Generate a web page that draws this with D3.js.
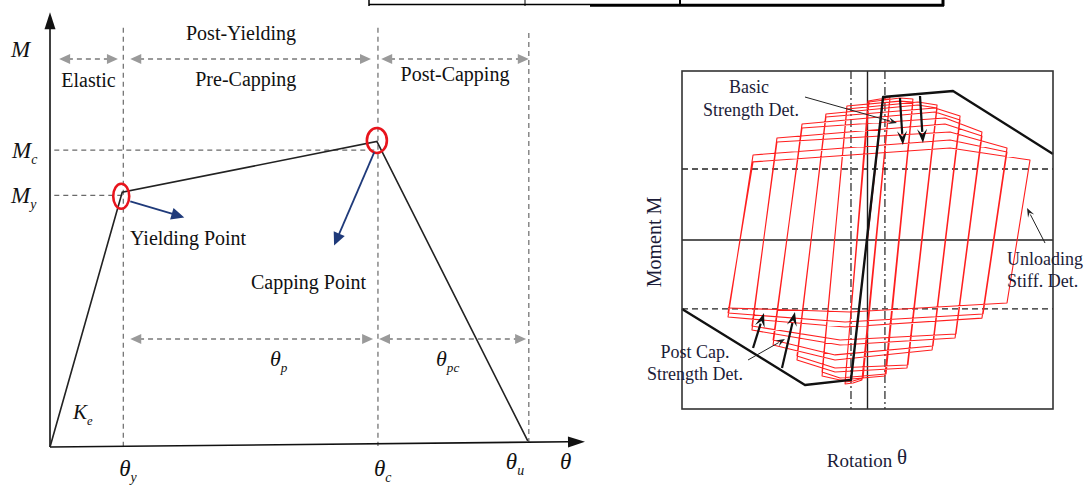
<!DOCTYPE html>
<html>
<head>
<meta charset="utf-8">
<script src="https://cdn.jsdelivr.net/npm/d3@7"></script>
<style>
  html, body { margin: 0; padding: 0; background: #fff; }
  svg text { font-family: "Liberation Serif", "DejaVu Serif", serif; }
</style>
</head>
<body>
<svg id="chart" width="1087" height="490"></svg>
<script>
// ---------- left panel: backbone curve (rotation, moment) in % of axis length
const bbTheta  = [0, 13.5, 61.1, 89.3];
const bbMoment = [0, 58.7, 70.4, 1.4];
const guideTheta = [13.7, 61.3, 89.5];      // θy, θc, θu
const guideTop   = [96.6, 96.6, 95.4];
const guideMoment = [58.0, 68.4];           // My, Mc
const topSpans = [[1.7, 12.7], [15.0, 60.0], [61.9, 89.5]];
const topNames = ["Elastic", "Pre-Capping", "Post-Capping"];
const lowSpans = [[15.0, 60.4], [61.5, 89.0]];

// ---------- right panel: cyclic response, % of frame half-size
const backbone = [[-100, -40.8], [-33.7, -85.8], [-8.9, -82.8], [8.4, 84.6], [46.1, 88.2], [100, 50.9]];
const yieldM = [42.0, -40.8];
const yieldTheta = [-8.9, 9.4];
// one entry per cycle: reload corner, top kink, positive peak, unload corner, bottom kink, negative peak
const loopTL  = [[8.4, 84.0], [0.3, 82.2], [0.8, 81.7], [-11.1, 79.3], [-11.1, 77.5], [-22.4, 74.6], [-22.4, 72.8], [-35.3, 68.6], [-35.3, 66.3], [-48.8, 60.4], [-48.8, 58.0], [-61.7, 50.3], [-61.7, 46.2]];
const loopTop = [[10.5, 84.6], [6.7, 83.4], [17.5, 84.0], [17.5, 82.2], [27.2, 81.7], [27.2, 79.9], [36.4, 78.1], [36.4, 75.7], [41.8, 72.2], [41.8, 68.6], [44.5, 63.9], [44.5, 59.2], [44.5, 54.4]];
const loopTR  = [[12.1, 84.6], [12.1, 83.4], [24.5, 83.4], [24.5, 81.7], [37.5, 79.9], [37.5, 78.1], [49.9, 73.4], [49.9, 71.0], [61.7, 63.9], [61.7, 61.5], [75.2, 54.4], [75.2, 52.1], [87.6, 47.3]];
const loopBR  = [[-3.0, -82.8], [-2.4, -81.7], [9.4, -80.5], [10.0, -79.3], [21.3, -75.7], [21.8, -74.0], [34.8, -65.1], [35.3, -62.7], [47.2, -58.0], [47.7, -55.6], [61.7, -46.2], [62.3, -43.8], [75.2, -37.3]];
const loopBot = [[-7.8, -84.6], [-7.8, -83.4], [-14.8, -82.8], [-14.8, -81.7], [-17.5, -78.1], [-17.5, -75.7], [-17.5, -71.0], [-17.5, -68.0], [-14.8, -62.1], [-14.8, -59.2], [-12.1, -51.5], [-12.1, -48.5], [-9.4, -42.6]];
const loopBL  = [[-12.1, -85.2], [-12.1, -84.0], [-24.5, -80.5], [-24.5, -78.1], [-38.0, -71.0], [-38.0, -68.6], [-50.9, -62.1], [-50.9, -59.2], [-62.3, -53.3], [-62.3, -50.9], [-75.2, -45.6], [-75.2, -43.2], [-75.2, -40.2]];

const SERIF = "Liberation Serif, DejaVu Serif, serif";
const svg = d3.select("#chart");
svg.append("rect").attr("width", 1087).attr("height", 490).attr("fill", "#fff");

function arrowHead(g, x1, y1, x2, y2, len, half, color, notch) {
  const a = Math.atan2(y2 - y1, x2 - x1), c = Math.cos(a), s = Math.sin(a);
  const pts = [[x2, y2],
    [x2 - len * c + half * s, y2 - len * s - half * c],
    [x2 - len * notch * c, y2 - len * notch * s],
    [x2 - len * c - half * s, y2 - len * s + half * c]];
  g.append("polygon").attr("points", pts.map(p => p.join(",")).join(" ")).attr("fill", color);
}

function arrow(g, x1, y1, x2, y2, o) {
  const a = Math.atan2(y2 - y1, x2 - x1);
  const back = o.len * 0.8;
  g.append("line")
    .attr("x1", o.both ? x1 + back * Math.cos(a) : x1).attr("y1", o.both ? y1 + back * Math.sin(a) : y1)
    .attr("x2", x2 - back * Math.cos(a)).attr("y2", y2 - back * Math.sin(a))
    .attr("stroke", o.color).attr("stroke-width", o.width)
    .attr("stroke-dasharray", o.dash || null);
  arrowHead(g, x1, y1, x2, y2, o.len, o.half, o.color, o.notch || 1);
  if (o.both) arrowHead(g, x2, y2, x1, y1, o.len, o.half, o.color, o.notch || 1);
}

function mathText(g, x, y, main, sub, size) {
  const t = g.append("text").attr("x", x).attr("y", y)
    .attr("font-family", SERIF)
    .attr("font-style", "italic").attr("font-size", size).attr("fill", "#111");
  t.append("tspan").text(main);
  if (sub) t.append("tspan").attr("dy", size * 0.28).attr("font-size", size * 0.6).text(sub);
  return t;
}

// ---------- table edge cut at the top of the page
const tbl = svg.append("g").attr("stroke", "#000");
tbl.append("line").attr("x1", 369).attr("x2", 944).attr("y1", 4.5).attr("y2", 4.5).attr("stroke-width", 1.5);
tbl.append("line").attr("x1", 590).attr("x2", 944).attr("y1", 5.5).attr("y2", 5.5).attr("stroke-width", 2.5);
[[369, 1.5], [525, 1], [680, 2], [943, 3]].forEach(([x, w]) =>
  tbl.append("line").attr("x1", x).attr("x2", x).attr("y1", 0).attr("y2", 6).attr("stroke-width", w));

// ================= LEFT PANEL =================
const xL = d3.scaleLinear().domain([0, 100]).range([50, 585]);
const yL = d3.scaleLinear().domain([0, 100]).range([447, 13]);
const left = svg.append("g");

// guide lines
guideTheta.forEach((t, i) => {
  left.append("line")
    .attr("x1", xL(t)).attr("x2", xL(t))
    .attr("y1", yL(guideTop[i])).attr("y2", yL(0) - 1)
    .attr("stroke", "#6a6a6a").attr("stroke-width", 1.2).attr("stroke-dasharray", "5,4");
});
guideMoment.forEach((m, i) => {
  left.append("line")
    .attr("x1", xL(0.8)).attr("x2", xL(guideTheta[i]))
    .attr("y1", yL(m)).attr("y2", yL(m))
    .attr("stroke", "#6a6a6a").attr("stroke-width", 1.2).attr("stroke-dasharray", "5,4");
});

// region arrows
const grey = { color: "#9a9a9a", width: 2, dash: "5,4", len: 11, half: 5, both: true };
topSpans.forEach(s => arrow(left, xL(s[0]), yL(89.4), xL(s[1]), yL(89.4), grey));
lowSpans.forEach(s => arrow(left, xL(s[0]), yL(24.9), xL(s[1]), yL(24.9), grey));

// axes
left.append("line").attr("x1", xL(0)).attr("y1", yL(0)).attr("x2", xL(0)).attr("y2", yL(97))
  .attr("stroke", "#111").attr("stroke-width", 1.6);
arrowHead(left, xL(0), yL(0), xL(0), yL(100.2), 17, 5.5, "#111", 1);
left.append("line").attr("x1", xL(0)).attr("y1", yL(0)).attr("x2", xL(97)).attr("y2", yL(1.2))
  .attr("stroke", "#111").attr("stroke-width", 1.6);
arrowHead(left, xL(0), yL(0), xL(100), yL(1.2), 17, 5.5, "#111", 1);

// backbone
const bbPts = bbTheta.map((t, i) => [xL(t), yL(bbMoment[i])]);
left.append("path").attr("d", d3.line()(bbPts))
  .attr("fill", "none").attr("stroke", "#222").attr("stroke-width", 1.6);

// red circles at yield and capping points
left.append("ellipse").attr("cx", bbPts[1][0] - 1).attr("cy", bbPts[1][1] + 4).attr("rx", 8).attr("ry", 12.5)
  .attr("fill", "none").attr("stroke", "#e8141c").attr("stroke-width", 2.6);
left.append("ellipse").attr("cx", bbPts[2][0]).attr("cy", bbPts[2][1] - 1).attr("rx", 10).attr("ry", 12.5)
  .attr("fill", "none").attr("stroke", "#e8141c").attr("stroke-width", 2.6);

// blue pointers
const navy = { color: "#1f3a7a", width: 1.8, len: 13, half: 6 };
arrow(left, xL(15.0), yL(56.6), xL(25.1), yL(52.9), navy);
arrow(left, xL(60.6), yL(67.9), xL(53.1), yL(46.4), navy);

// text
const lt = left.append("g").attr("fill", "#111").attr("font-size", 20).attr("font-family", SERIF);
lt.append("text").attr("x", xL(35.7)).attr("y", yL(93.8)).attr("text-anchor", "middle").text("Post-Yielding");
lt.append("text").attr("x", xL(7.2)).attr("y", yL(82.9)).attr("text-anchor", "middle").text(topNames[0]);
lt.append("text").attr("x", xL(36.6)).attr("y", yL(83.1)).attr("text-anchor", "middle").text(topNames[1]);
lt.append("text").attr("x", xL(75.7)).attr("y", yL(84.3)).attr("text-anchor", "middle").text(topNames[2]);
lt.append("text").attr("x", 130).attr("y", 245).text("Yielding Point");
lt.append("text").attr("x", 251).attr("y", 289).text("Capping Point");

mathText(left, 11, 57, "M", null, 23);
mathText(left, 12, 158, "M", "c", 23);
mathText(left, 11, 203, "M", "y", 23);
mathText(left, 73, 419, "K", "e", 21);
mathText(left, 270, 366, "θ", "p", 22);
mathText(left, 436, 366, "θ", "pc", 22);
mathText(left, xL(13.7) - 4, 476, "θ", "y", 23);
mathText(left, xL(61.3) - 4, 476, "θ", "c", 23);
mathText(left, xL(89.5) - 23, 469, "θ", "u", 23);
mathText(left, 560, 469, "θ", null, 23);

// ================= RIGHT PANEL =================
const xR = d3.scaleLinear().domain([-100, 100]).range([682, 1053]);
const yR = d3.scaleLinear().domain([-100, 100]).range([409, 71]);
const right = svg.append("g");

yieldM.forEach(m => right.append("line")
  .attr("x1", xR(-100)).attr("x2", xR(100)).attr("y1", yR(m)).attr("y2", yR(m))
  .attr("stroke", "#222").attr("stroke-width", 1.3).attr("stroke-dasharray", "6,4"));
yieldTheta.forEach(t => right.append("line")
  .attr("x1", xR(t)).attr("x2", xR(t)).attr("y1", yR(100)).attr("y2", yR(-100))
  .attr("stroke", "#222").attr("stroke-width", 1.2).attr("stroke-dasharray", "8,3,2,3"));
right.append("line").attr("x1", xR(-100)).attr("x2", xR(100)).attr("y1", yR(0)).attr("y2", yR(0))
  .attr("stroke", "#222").attr("stroke-width", 1.4);
right.append("line").attr("x1", xR(0)).attr("x2", xR(0)).attr("y1", yR(100)).attr("y2", yR(-100))
  .attr("stroke", "#222").attr("stroke-width", 1.4);

// hysteresis loops, one continuous path
const loopPts = [[0, 0]];
loopTL.forEach((d, i) => loopPts.push(d, loopTop[i], loopTR[i], loopBR[i], loopBot[i], loopBL[i]));
right.append("path")
  .attr("d", d3.line().x(d => xR(d[0])).y(d => yR(d[1]))(loopPts))
  .attr("fill", "none").attr("stroke", "#ff1f1f").attr("stroke-width", 1.1)
  .attr("stroke-linejoin", "round");

right.append("path")
  .attr("d", d3.line().x(d => xR(d[0])).y(d => yR(d[1]))(backbone))
  .attr("fill", "none").attr("stroke", "#111").attr("stroke-width", 2.4)
  .attr("stroke-linejoin", "round");

right.append("rect").attr("x", xR(-100)).attr("y", yR(100))
  .attr("width", xR(100) - xR(-100)).attr("height", yR(-100) - yR(100))
  .attr("fill", "none").attr("stroke", "#333").attr("stroke-width", 1.6);

// deterioration pointers
const thick = { color: "#111", width: 2.2, len: 14, half: 5, notch: 0.6 };
const thin = { color: "#222", width: 1, len: 9, half: 3.5, notch: 0.6 };
arrow(right, xR(17.5), yR(84.0), xR(19.1), yR(56.2), thick);
arrow(right, xR(28.3), yR(85.2), xR(29.9), yR(57.4), thick);
arrow(right, xR(-61.7), yR(-63.9), xR(-55.8), yR(-43.2), thick);
arrow(right, xR(-46.1), yR(-75.7), xR(-39.1), yR(-42.6), thick);
arrow(right, xR(-33.7), yR(84.6), xR(15.9), yR(69.2), thin);
arrow(right, xR(-64.4), yR(-71.0), xR(-44.5), yR(-58.6), thin);
arrow(right, xR(95.7), yR(-1.8), xR(86.0), yR(18.9), thin);

const rt = right.append("g").attr("fill", "#1c1c38").attr("font-size", 18).attr("font-family", SERIF);
rt.append("text").attr("x", 749).attr("y", 93).attr("text-anchor", "middle").text("Basic");
rt.append("text").attr("x", 751).attr("y", 116).attr("text-anchor", "middle").text("Strength Det.");
rt.append("text").attr("x", 695).attr("y", 358).attr("text-anchor", "middle").text("Post Cap.");
rt.append("text").attr("x", 695).attr("y", 380).attr("text-anchor", "middle").text("Strength Det.");
rt.append("text").attr("x", 1007).attr("y", 265).text("Unloading");
rt.append("text").attr("x", 1007).attr("y", 287).text("Stiff. Det.");
rt.append("text").attr("transform", "translate(661,242) rotate(-90)").attr("text-anchor", "middle")
  .attr("font-size", 20).text("Moment M");
const rot = rt.append("text").attr("x", 867).attr("y", 467).attr("text-anchor", "middle").attr("font-size", 19);
rot.append("tspan").text("Rotation ");
rot.append("tspan").attr("dy", -3).attr("font-size", 21).text("θ");
</script>
</body>
</html>
